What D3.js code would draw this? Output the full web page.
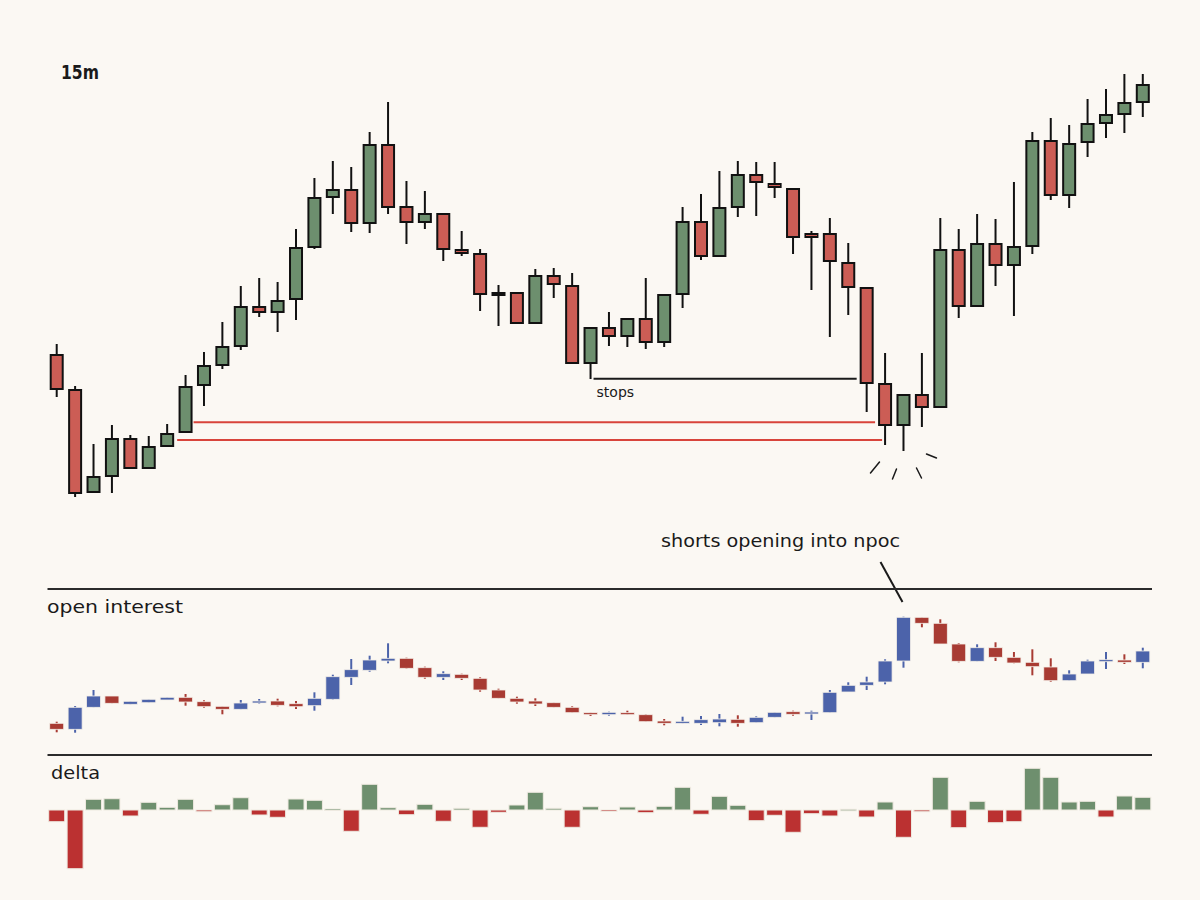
<!DOCTYPE html>
<html>
<head>
<meta charset="utf-8">
<script src="https://cdn.jsdelivr.net/npm/d3@7/dist/d3.min.js"></script>
<style>
  html, body { margin: 0; padding: 0; background: #fbf8f3; }
  svg { display: block; }
  text { font-family: "DejaVu Sans", "Noto Sans", sans-serif; fill: #1a1a1a; }
</style>
</head>
<body>
<div id="chart"></div>
<script>
// price candles (15m)
const priceOpen  = [61450,61100,60080,60240,60610,60320,60540,60680,61150,61350,61540,61930,61880,62010,62530,63030,63100,62770,63550,62930,62780,62860,62500,62460,62070,62070,61770,62240,62140,61370,61720,61640,61810,61580,62060,62780,62440,62930,63250,63160,63110,62660,62660,62370,62120,61160,60750,61050,60930,62500,61940,62560,62350,62540,63590,63050,63580,63770,63860,63980];
const priceHigh  = [61560,61140,60560,60750,60650,60640,60760,61250,61480,61780,62140,62220,62180,62710,63220,63390,63330,63680,63980,63190,63090,62860,62690,62510,62150,62070,62310,62320,62270,61720,61880,61810,62220,62050,62930,63060,63290,63390,63380,63380,63120,62690,62820,62570,62120,61470,61050,61470,62820,62710,62860,62810,63180,63680,63820,63750,64010,64110,64260,64260];
const priceLow   = [61030,60030,60070,60070,60320,60310,60540,60680,60940,61310,61500,61830,61680,61800,62510,62860,62680,62670,62860,62560,62710,62390,62440,61890,61740,61770,61770,62020,61370,61210,61540,61530,61510,61530,61920,62400,62440,62830,62840,63020,62460,62100,61630,61850,60880,60550,60490,60730,60930,61820,61930,62140,61840,62460,63000,62920,63430,63620,63670,63830];
const priceClose = [61110,60070,60230,60610,60320,60530,60660,61130,61340,61530,61930,61880,61990,62520,63020,63100,62770,63550,62930,62780,62860,62510,62470,62060,62050,61770,62240,62160,61370,61720,61640,61810,61580,62050,62780,62440,62920,63250,63180,63130,62630,62630,62390,62130,61170,60750,61050,60930,62500,61940,62560,62350,62530,63590,63050,63560,63760,63850,63970,64150];

// open interest candles
const oiOpen  = [81670,81070,83270,84400,83570,83730,84000,84270,83830,83370,83070,83700,83900,83630,83430,84070,86270,86970,87900,88170,87230,86270,86570,86170,85000,84170,83900,83730,83270,82730,82530,82730,82530,81900,81670,81670,81730,82070,81730,82270,82830,82600,82730,84800,85470,85800,87900,92270,91670,89600,87870,89230,88270,87770,87300,85930,86600,87870,88000,87770];
const oiHigh  = [81830,83400,85000,84400,83870,84070,84270,84600,83970,83370,84000,84100,84130,83900,84770,86530,88100,88430,89670,88230,87330,86870,86630,86270,85130,84330,84170,83730,83370,82730,82830,82930,82600,82100,82330,82400,82600,82470,82370,82770,82930,82930,85000,85770,86330,88070,92330,92270,92070,89700,89570,89770,88800,89070,88170,86970,88030,88800,88570,89230];
const oiLow   = [80770,80730,83270,83670,83570,83730,84000,83430,83230,82570,83070,83630,83370,83100,82930,84000,85500,86830,87670,87100,86130,86000,86000,84830,84170,83630,83400,83270,82730,82400,82430,82530,81830,81470,81670,81500,81370,81330,81730,82270,82430,82000,82730,84800,85000,85570,87230,91270,89600,87770,87870,87900,87670,86470,85830,85930,86600,87100,87600,87170];
const oiClose = [81070,83270,84400,83670,83870,84070,84270,83800,83330,83070,83700,83900,83470,83330,84170,86330,87030,88000,88170,87170,86270,86630,86170,85000,84170,83800,83600,83270,82730,82530,82770,82530,81830,81670,81870,82030,82100,81670,82270,82770,82570,82800,84770,85470,85800,87900,92270,91670,89600,87870,89230,88270,87700,87330,85930,86600,87900,88030,87770,88900];

// delta per candle
const deltaValues = [-117,-587,107,113,-60,77,27,107,-17,53,123,-50,-73,110,97,10,-213,257,23,-47,57,-113,17,-173,-23,50,177,17,-173,33,-10,30,-27,37,227,-43,137,47,-107,-53,-223,-37,-60,7,-70,80,-273,-17,327,-177,87,-127,-117,417,327,80,87,-70,140,127];

// levels drawn on the price panel
const npocLevels = [60777, 60600];   // upper from candle 7, lower from candle 6
const npocStart = [7, 6];
const stopsLevel = 61213;             // low of candle 29

const timeframeLabel = "15m";
const oiLabel = "open interest";
const deltaLabel = "delta";
const stopsLabel = "stops";
const noteLabel = "shorts opening into npoc";

const W = 1200, H = 900;
const BG = "#fbf8f3";
const GREEN = "#6d8f6e", RED = "#cc5d55";
const OI_BLUE = "#4c63aa", OI_RED = "#a83b33";
const D_GREEN = "#6e8f6e", D_RED = "#bb3131";

const svg = d3.select("#chart").append("svg")
  .attr("width", W).attr("height", H);

svg.append("rect").attr("width", W).attr("height", H).attr("fill", BG);

const idx = d3.range(priceOpen.length);

// 共用 X 轴
const x = d3.scaleBand().domain(idx).range([47.5, 1152]).padding(0);
const cx = i => x(i) + x.bandwidth() / 2;

// price scale
const y = d3.scaleLinear().domain([60000, 64300]).range([500, 70]);
// open interest scale
const yOi = d3.scaleLinear().domain([80000, 93500]).range([740, 605]);
// delta scale
const yD = d3.scaleLinear().domain([-600, 450]).range([870, 765]);

// ---- price panel ----
const price = svg.append("g");

// red npoc lines
npocLevels.forEach((lv, k) => {
  price.append("line")
    .attr("x1", cx(npocStart[k]) + (k === 0 ? 8 : 10))
    .attr("x2", cx(45) - (k === 0 ? 10 : 3))
    .attr("y1", y(lv)).attr("y2", y(lv))
    .attr("stroke", "#d8443b").attr("stroke-width", 2);
});

// stops line
price.append("line")
  .attr("x1", cx(29) + 3).attr("x2", cx(44) - 10)
  .attr("y1", y(stopsLevel)).attr("y2", y(stopsLevel))
  .attr("stroke", "#1a1a1a").attr("stroke-width", 2);

price.append("text")
  .attr("x", cx(29) + 6).attr("y", y(stopsLevel) + 18)
  .attr("font-size", 14)
  .text(stopsLabel);

const candles = price.selectAll("g.candle").data(idx).enter()
  .append("g").attr("class", "candle");

candles.append("line")
  .attr("x1", cx).attr("x2", cx)
  .attr("y1", i => y(priceHigh[i]))
  .attr("y2", i => y(priceLow[i]))
  .attr("stroke", "#111").attr("stroke-width", 2);

const bodyW = 12;
candles.append("rect")
  .attr("x", i => cx(i) - bodyW / 2)
  .attr("width", bodyW)
  .attr("y", i => y(Math.max(priceOpen[i], priceClose[i])))
  .attr("height", i => Math.max(1, Math.abs(y(priceOpen[i]) - y(priceClose[i]))))
  .attr("fill", i => priceClose[i] >= priceOpen[i] ? GREEN : RED)
  .attr("stroke", "#111").attr("stroke-width", 2);

// burst marks under candle 46
const burst = [[-24, 11, -33, 22], [-7, 18, -11, 28], [13, 17, 18, 27], [23, 3, 33, 7]];
const bx = cx(46), by = y(priceLow[46]);
burst.forEach(b => {
  price.append("line")
    .attr("x1", bx + b[0]).attr("y1", by + b[1])
    .attr("x2", bx + b[2]).attr("y2", by + b[3])
    .attr("stroke", "#1a1a1a").attr("stroke-width", 1.5)
    .attr("stroke-linecap", "round");
});

svg.append("text")
  .attr("x", 61).attr("y", 79)
  .attr("font-size", 20).attr("font-weight", "bold")
  .attr("textLength", 38).attr("lengthAdjust", "spacingAndGlyphs")
  .text(timeframeLabel);

// annotation
svg.append("text")
  .attr("x", 661).attr("y", 547)
  .attr("font-size", 17)
  .attr("textLength", 239).attr("lengthAdjust", "spacingAndGlyphs")
  .text(noteLabel);

svg.append("line")
  .attr("x1", cx(46) - 23).attr("y1", 562)
  .attr("x2", cx(46) - 1).attr("y2", 602)
  .attr("stroke", "#1a1a1a").attr("stroke-width", 2);

// ---- separators ----
[589, 755].forEach(sy => {
  svg.append("line")
    .attr("x1", 47.5).attr("x2", 1152)
    .attr("y1", sy).attr("y2", sy)
    .attr("stroke", "#2b2b2b").attr("stroke-width", 2);
});

svg.append("text")
  .attr("x", 47).attr("y", 613)
  .attr("font-size", 17)
  .attr("textLength", 136).attr("lengthAdjust", "spacingAndGlyphs")
  .text(oiLabel);

svg.append("text")
  .attr("x", 51).attr("y", 779)
  .attr("font-size", 17)
  .attr("textLength", 49).attr("lengthAdjust", "spacingAndGlyphs")
  .text(deltaLabel);

// ---- open interest panel ----
const oi = svg.append("g");
const oiCandles = oi.selectAll("g.oi").data(idx).enter()
  .append("g").attr("class", "oi");
const oiColor = i => oiClose[i] >= oiOpen[i] ? OI_BLUE : OI_RED;

oiCandles.append("line")
  .attr("x1", cx).attr("x2", cx)
  .attr("y1", i => yOi(oiHigh[i]))
  .attr("y2", i => yOi(oiLow[i]))
  .attr("stroke", oiColor).attr("stroke-width", 2);

const oiW = 14;
oiCandles.append("rect")
  .attr("x", i => cx(i) - oiW / 2)
  .attr("width", oiW)
  .attr("y", i => yOi(Math.max(oiOpen[i], oiClose[i])))
  .attr("height", i => Math.max(2, Math.abs(yOi(oiOpen[i]) - yOi(oiClose[i]))))
  .attr("fill", oiColor)
  .attr("stroke", "#f4efe8").attr("stroke-width", 0.8);

// ---- delta panel ----
const dW = 16;
svg.append("g").selectAll("rect").data(idx).enter()
  .append("rect")
  .attr("x", i => cx(i) - dW / 2)
  .attr("width", dW)
  .attr("y", i => Math.min(yD(0), yD(deltaValues[i])))
  .attr("height", i => Math.max(1.5, Math.abs(yD(deltaValues[i]) - yD(0))))
  .attr("fill", i => deltaValues[i] >= 0 ? D_GREEN : D_RED)
  .attr("stroke", "#eee9e0").attr("stroke-width", 1);
</script>
</body>
</html>
